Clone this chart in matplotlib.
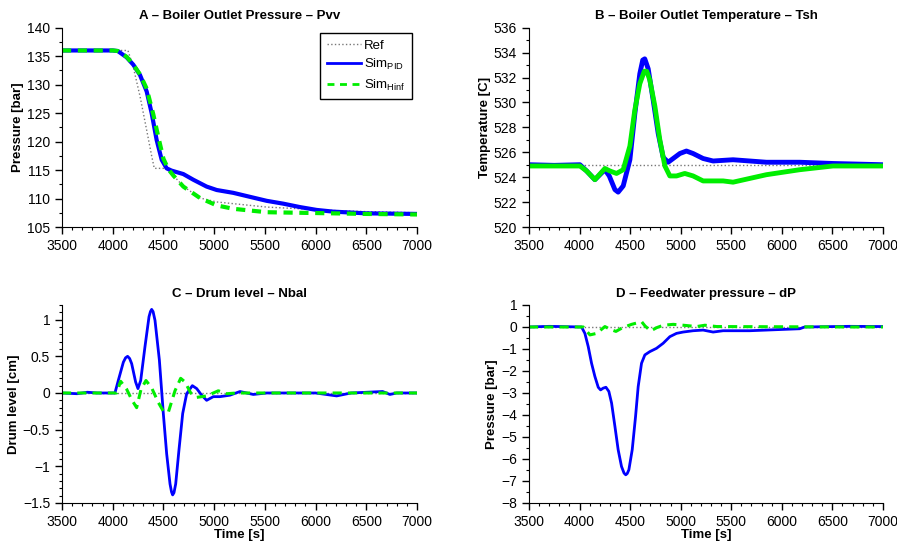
import matplotlib
matplotlib.use('Agg')
import matplotlib.pyplot as plt
from matplotlib.ticker import MultipleLocator, FuncFormatter

plt.rcParams['font.family'] = ['Liberation Sans', 'DejaVu Sans']
plt.rcParams['font.size'] = 10
plt.rcParams['mathtext.default'] = 'regular'

# ---------------- A: boiler outlet pressure ----------------
tA_ref = [3500, 4000, 4150, 4200, 4270, 4335, 4385, 4410, 4530, 4600, 4700, 4860, 5025, 5190,
          5520, 5850, 6175, 6500, 7000]
pA_ref = [136.0, 136.0, 136.0, 133.3, 127.9, 122.0, 117.4, 115.3, 115.3, 114.0, 112.1, 110.1,
          109.4, 109.1, 108.5, 108.2, 107.9, 107.7, 107.5]
tA_pid = [3500, 4000, 4050, 4137, 4203, 4269, 4335, 4384, 4433, 4483, 4532, 4581, 4696, 4795,
          4926, 5025, 5189, 5353, 5518, 5682, 5846, 6011, 6175, 6503, 7000]
pA_pid = [136.0, 136.0, 135.9, 134.8, 133.5, 131.7, 128.8, 125.0, 120.3, 116.8, 115.3, 114.9,
          114.3, 113.3, 112.1, 111.5, 111.0, 110.3, 109.6, 109.1, 108.5, 108.0, 107.7, 107.4, 107.3]
tA_hinf = [3500, 4000, 4050, 4137, 4203, 4269, 4335, 4400, 4450, 4500, 4550, 4600, 4696, 4860,
           5025, 5189, 5518, 5850, 6500, 7000]
pA_hinf = [136.0, 136.0, 135.9, 134.9, 133.5, 131.8, 129.3, 124.8, 120.8, 117.0, 115.1, 114.0,
           112.1, 110.1, 108.8, 108.2, 107.6, 107.5, 107.3, 107.2]

# ---------------- B: boiler outlet temperature ----------------
tB_ref = [3500, 7000]
TB_ref = [525.0, 525.0]
tB_pid = [3500, 3750, 4004, 4070, 4152, 4201, 4251, 4294, 4350, 4382, 4432, 4498, 4547, 4596,
          4625, 4645, 4679, 4728, 4778, 4827, 4876, 4926, 4992, 5057, 5123, 5222, 5321, 5518,
          5848, 6177, 6506, 7000]
TB_pid = [525.0, 524.95, 525.0, 524.5, 523.8, 524.2, 524.6, 524.1, 523.0, 522.8, 523.3, 525.4,
          529.1, 532.3, 533.4, 533.5, 532.7, 530.2, 527.5, 525.6, 525.2, 525.5, 525.9, 526.1,
          525.9, 525.5, 525.3, 525.4, 525.2, 525.2, 525.1, 525.0]
tB_hinf = [3500, 4004, 4070, 4152, 4251, 4300, 4366, 4432, 4498, 4547, 4596, 4640, 4665, 4695,
           4745, 4794, 4844, 4893, 4959, 5041, 5123, 5222, 5420, 5518, 5683, 5848, 6177, 6506,
           7000]
TB_hinf = [524.9, 524.9, 524.5, 523.8, 524.7, 524.5, 524.3, 524.6, 526.5, 529.4, 531.5, 532.5,
           532.5, 531.8, 529.7, 527.0, 524.9, 524.1, 524.1, 524.3, 524.1, 523.7, 523.7, 523.6,
           523.9, 524.2, 524.6, 524.9, 524.9]

# ---------------- C: drum level ----------------
tC_ref = [3500, 7000]
NC_ref = [0.0, 0.0]
tC_pid = [3500, 3650, 3750, 3850, 4022, 4055, 4105, 4127, 4147, 4167, 4187, 4226, 4249, 4276,
          4318, 4358, 4372, 4384, 4398, 4417, 4460, 4499, 4532, 4565, 4580, 4591, 4604, 4621,
          4653, 4690, 4729, 4785, 4828, 4877, 4926, 4992, 5058, 5156, 5255, 5386, 5518, 6000,
          6208, 6350, 6661, 6733, 6800, 7000]
NC_pid = [0.0, -0.01, 0.01, 0.0, 0.0, 0.17, 0.42, 0.48, 0.50, 0.47, 0.40, 0.15, 0.06, 0.17,
          0.63, 1.04, 1.11, 1.14, 1.11, 0.99, 0.45, -0.28, -0.83, -1.24, -1.35, -1.39, -1.36,
          -1.24, -0.78, -0.28, -0.01, 0.10, 0.06, -0.03, -0.10, -0.05, -0.05, -0.03, 0.02,
          -0.02, 0.0, 0.0, -0.04, 0.0, 0.02, -0.02, 0.0, 0.0]
tC_hinf = [3500, 4039, 4078, 4138, 4187, 4236, 4279, 4328, 4384, 4450, 4500, 4549, 4614, 4670,
           4713, 4769, 4828, 4927, 5041, 5123, 5222, 7000]
NC_hinf = [0.0, 0.0, 0.16, 0.05, -0.09, -0.20, 0.05, 0.17, 0.07, -0.13, -0.25, -0.26, 0.03,
           0.20, 0.15, 0.0, -0.06, -0.04, 0.03, -0.01, 0.0, 0.0]

# ---------------- D: feedwater pressure ----------------
tD_ref = [3500, 7000]
PD_ref = [0.0, 0.0]
tD_pid = [3500, 3700, 4020, 4053, 4086, 4119, 4152, 4185, 4208, 4234, 4261, 4290, 4317, 4350,
          4382, 4415, 4440, 4457, 4472, 4488, 4521, 4554, 4580, 4613, 4646, 4695, 4761, 4827,
          4893, 4959, 5024, 5123, 5222, 5321, 5420, 5683, 6012, 6177, 6226, 6671, 7000]
PD_pid = [0.0, 0.03, 0.0, -0.29, -0.89, -1.65, -2.25, -2.74, -2.86, -2.78, -2.74, -2.93, -3.46,
          -4.52, -5.58, -6.34, -6.64, -6.72, -6.66, -6.49, -5.58, -4.07, -2.71, -1.65, -1.27,
          -1.12, -0.97, -0.74, -0.44, -0.29, -0.23, -0.17, -0.14, -0.23, -0.17, -0.17, -0.11,
          -0.08, 0.0, 0.03, 0.02]
tD_hinf = [3500, 4037, 4103, 4169, 4251, 4300, 4360, 4426, 4515, 4614, 4647, 4703, 4763, 4828,
           4927, 5026, 5158, 5240, 5356, 6700, 7000]
PD_hinf = [0.0, 0.0, -0.36, -0.29, 0.02, -0.10, -0.20, -0.03, 0.12, 0.24, 0.05, -0.18, -0.03,
           0.08, 0.12, 0.08, 0.02, 0.08, 0.02, 0.0, 0.0]

fig = plt.figure(figsize=(8.97, 5.46), dpi=100)
axA = fig.add_axes([0.0691, 0.5842, 0.3958, 0.3651])
axB = fig.add_axes([0.5897, 0.5842, 0.3946, 0.3651])
axC = fig.add_axes([0.0691, 0.0788, 0.3958, 0.3626])
axD = fig.add_axes([0.5897, 0.0788, 0.3946, 0.3626])

blue, green, grey = '#0000ff', '#00ee00', '#777777'
fmt = FuncFormatter(lambda v, pos: ('%g' % v).replace('-', '\u2212'))

def style(ax, title, ylabel, ylim, major, minor, xlabel=None):
    ax.set_xlim(3500, 7000)
    ax.set_ylim(*ylim)
    ax.xaxis.set_major_locator(MultipleLocator(500))
    ax.xaxis.set_minor_locator(MultipleLocator(100))
    ax.yaxis.set_major_locator(MultipleLocator(major))
    ax.yaxis.set_minor_locator(MultipleLocator(minor))
    ax.yaxis.set_major_formatter(fmt)
    for s in ('top', 'right'):
        ax.spines[s].set_visible(False)
    ax.tick_params(which='major', direction='out', length=5, width=1, labelsize=10)
    ax.tick_params(which='minor', direction='out', length=2.5, width=0.8)
    ax.set_title(title, fontsize=9.5, weight='bold', pad=6)
    ax.set_ylabel(ylabel, fontsize=9.5, weight='bold', labelpad=2)
    if xlabel:
        ax.set_xlabel(xlabel, fontsize=9.5, weight='bold', labelpad=0)

# A
axA.plot(tA_ref, pA_ref, ls=':', color=grey, lw=1.0, label='Ref')
axA.plot(tA_pid, pA_pid, color=blue, lw=3.0, label='Sim$_{PID}$')
axA.plot(tA_hinf, pA_hinf, ls=(0, (2.2, 1.6)), color=green, lw=3.0, label='Sim$_{Hinf}$')
style(axA, 'A – Boiler Outlet Pressure – Pvv', 'Pressure [bar]', (105, 140), 5, 2.5)
leg = axA.legend(loc='upper right', fontsize=9.5, fancybox=False, framealpha=1,
                 edgecolor='black', borderaxespad=0.4, handlelength=2.6,
                 handletextpad=0.2, labelspacing=0.4, borderpad=0.5)
leg.get_frame().set_linewidth(1.0)
for h in leg.get_lines()[1:]:
    h.set_linewidth(2.0)
leg.get_lines()[2].set_dashes((2.5, 2.0))

# B
axB.plot(tB_ref, TB_ref, ls=':', color=grey, lw=1.0)
axB.plot(tB_pid, TB_pid, color=blue, lw=3.5)
axB.plot(tB_hinf, TB_hinf, color=green, lw=3.5)
style(axB, 'B – Boiler Outlet Temperature – Tsh', 'Temperature [C]', (520, 536), 2, 1)

# C
axC.plot(tC_ref, NC_ref, ls=':', color=grey, lw=1.0)
axC.plot(tC_pid, NC_pid, color=blue, lw=2.0)
axC.plot(tC_hinf, NC_hinf, ls=(0, (3, 2)), color=green, lw=2.2)
style(axC, 'C – Drum level – Nbal', 'Drum level [cm]', (-1.5, 1.2), 0.5, 0.1, 'Time [s]')

# D
axD.plot(tD_ref, PD_ref, ls=':', color=grey, lw=1.0)
axD.plot(tD_pid, PD_pid, color=blue, lw=2.0)
axD.plot(tD_hinf, PD_hinf, ls=(0, (3, 2)), color=green, lw=2.2)
style(axD, 'D – Feedwater pressure – dP', 'Pressure [bar]', (-8, 1), 1, 0.5, 'Time [s]')

fig.savefig('out.png', dpi=100)
